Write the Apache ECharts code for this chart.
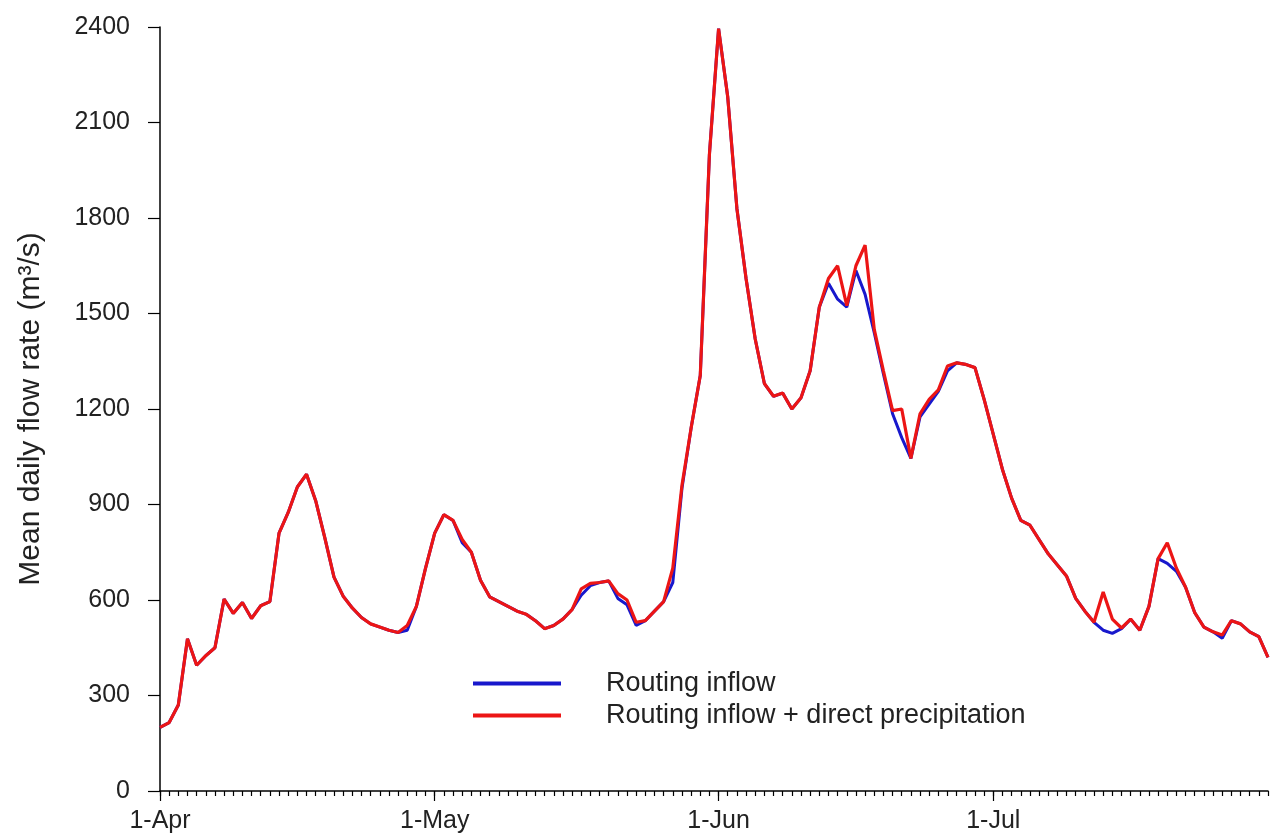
<!DOCTYPE html>
<html>
<head>
<meta charset="utf-8">
<script src="https://cdn.jsdelivr.net/npm/echarts@6/dist/echarts.min.js"></script>
<style>
html,body{margin:0;padding:0;background:#fff;}
#chart{width:1277px;height:839px;}
</style>
</head>
<body>
<div id="chart"></div>
<script>
// Month names and day counts for the x categories (1-Apr .. 31-Jul)
const monthNames = ['Apr', 'May', 'Jun', 'Jul'];
const monthDays = [30, 31, 30, 31];

// Y ticks
const yTicks = [0, 300, 600, 900, 1200, 1500, 1800, 2100, 2400];

// Routing inflow + direct precipitation (red)
const inflowPlusPrecip = [
  200, 215, 270, 478, 395, 425, 450, 603, 558, 592,
  542, 582, 595, 810, 875, 955, 995, 912, 795, 672,
  612, 575, 545, 525, 515, 505, 498, 520, 580, 700,
  810, 868, 850, 790, 750, 662, 610, 595, 580, 565,
  555, 535, 510, 520, 540, 570, 635, 652, 655, 660,
  620, 600, 530, 535, 565, 595, 700, 960, 1140, 1305,
  2000, 2395, 2180, 1830, 1610, 1420, 1280, 1240, 1250, 1200,
  1235, 1320, 1520, 1610, 1650, 1525, 1650, 1715, 1450, 1320,
  1195, 1200, 1045, 1185, 1230, 1260, 1335, 1345, 1340, 1330,
  1230, 1120, 1010, 920, 850, 835, 790, 745, 710, 675,
  605, 565, 530, 625, 540, 512, 540, 505, 580, 730,
  780, 700, 640, 560, 515, 500, 490, 535, 525, 500,
  485, 420
];

// Routing inflow (blue)
const routingInflow = [
  200, 215, 270, 478, 395, 425, 450, 603, 558, 592,
  542, 582, 595, 810, 875, 955, 995, 912, 795, 672,
  612, 575, 545, 525, 515, 505, 498, 505, 580, 700,
  810, 868, 850, 780, 750, 662, 610, 595, 580, 565,
  555, 535, 510, 520, 540, 570, 615, 645, 655, 660,
  605, 585, 520, 535, 565, 595, 655, 950, 1140, 1305,
  2000, 2395, 2180, 1830, 1610, 1420, 1280, 1240, 1250, 1200,
  1235, 1320, 1520, 1595, 1545, 1520, 1635, 1560, 1440, 1310,
  1185, 1110, 1045, 1175, 1215, 1255, 1320, 1345, 1340, 1330,
  1230, 1120, 1010, 920, 850, 835, 790, 745, 710, 675,
  605, 565, 530, 505, 495, 510, 540, 505, 580, 730,
  715, 690, 640, 560, 515, 500, 480, 535, 525, 500,
  485, 420
];

const days = [];
monthNames.forEach(function (m, k) {
  for (let d = 1; d <= monthDays[k]; d++) days.push(d + '-' + m);
});

const FONT = 'Liberation Sans, Arial, sans-serif';
const TXT = '#222';

const chart = echarts.init(document.getElementById('chart'), null, {renderer: 'canvas'});
chart.setOption({
  animation: false,
  backgroundColor: '#fff',
  grid: {left: 160, right: 9, top: 27, bottom: 48, containLabel: false},
  legend: {
    orient: 'vertical',
    left: 468,
    top: 665,
    icon: 'rect',
    itemWidth: 88,
    itemHeight: 4,
    itemGap: 5,
    data: ['Routing inflow', 'Routing inflow + direct precipitation'],
    textStyle: {fontFamily: FONT, fontSize: 27, color: TXT, padding: [0, 0, 0, 40]}
  },
  xAxis: [{
    type: 'category',
    data: days,
    boundaryGap: false,
    axisLine: {lineStyle: {color: '#000', width: 1.5}},
    axisTick: {interval: 0, length: 5, lineStyle: {color: '#000', width: 1.2}},
    axisLabel: {
      interval: function (i, v) { return v.indexOf('1-') === 0; },
      fontFamily: FONT, fontSize: 25, color: TXT, margin: 18,
      showMinLabel: true
    },
    splitLine: {show: false}
  }, {
    type: 'category',
    data: days,
    boundaryGap: false,
    position: 'bottom',
    axisLine: {show: false},
    axisTick: {
      interval: function (i, v) { return v.indexOf('1-') === 0; },
      length: 10, lineStyle: {color: '#000', width: 1.2}
    },
    axisLabel: {show: false},
    splitLine: {show: false}
  }],
  yAxis: {
    type: 'value',
    min: yTicks[0],
    max: yTicks[yTicks.length - 1],
    interval: 300,
    name: 'Mean daily flow rate (m³/s)',
    nameLocation: 'middle',
    nameGap: 114,
    nameTextStyle: {fontFamily: FONT, fontSize: 30, color: TXT},
    axisLine: {show: true, lineStyle: {color: '#000', width: 1.5}},
    axisTick: {show: true, length: 12, lineStyle: {color: '#000', width: 1.2}},
    axisLabel: {
      fontFamily: FONT, fontSize: 25, color: TXT, margin: 30,
      formatter: function (v) { return String(v); }
    },
    splitLine: {show: false}
  },
  series: [{
    name: 'Routing inflow',
    type: 'line',
    data: routingInflow,
    symbol: 'none',
    color: '#1818cc',
    lineStyle: {color: '#1818cc', width: 3},
    z: 2
  }, {
    name: 'Routing inflow + direct precipitation',
    type: 'line',
    data: inflowPlusPrecip,
    symbol: 'none',
    color: '#ec1515',
    lineStyle: {color: '#ec1515', width: 3.2},
    z: 3
  }]
});
</script>
</body>
</html>
